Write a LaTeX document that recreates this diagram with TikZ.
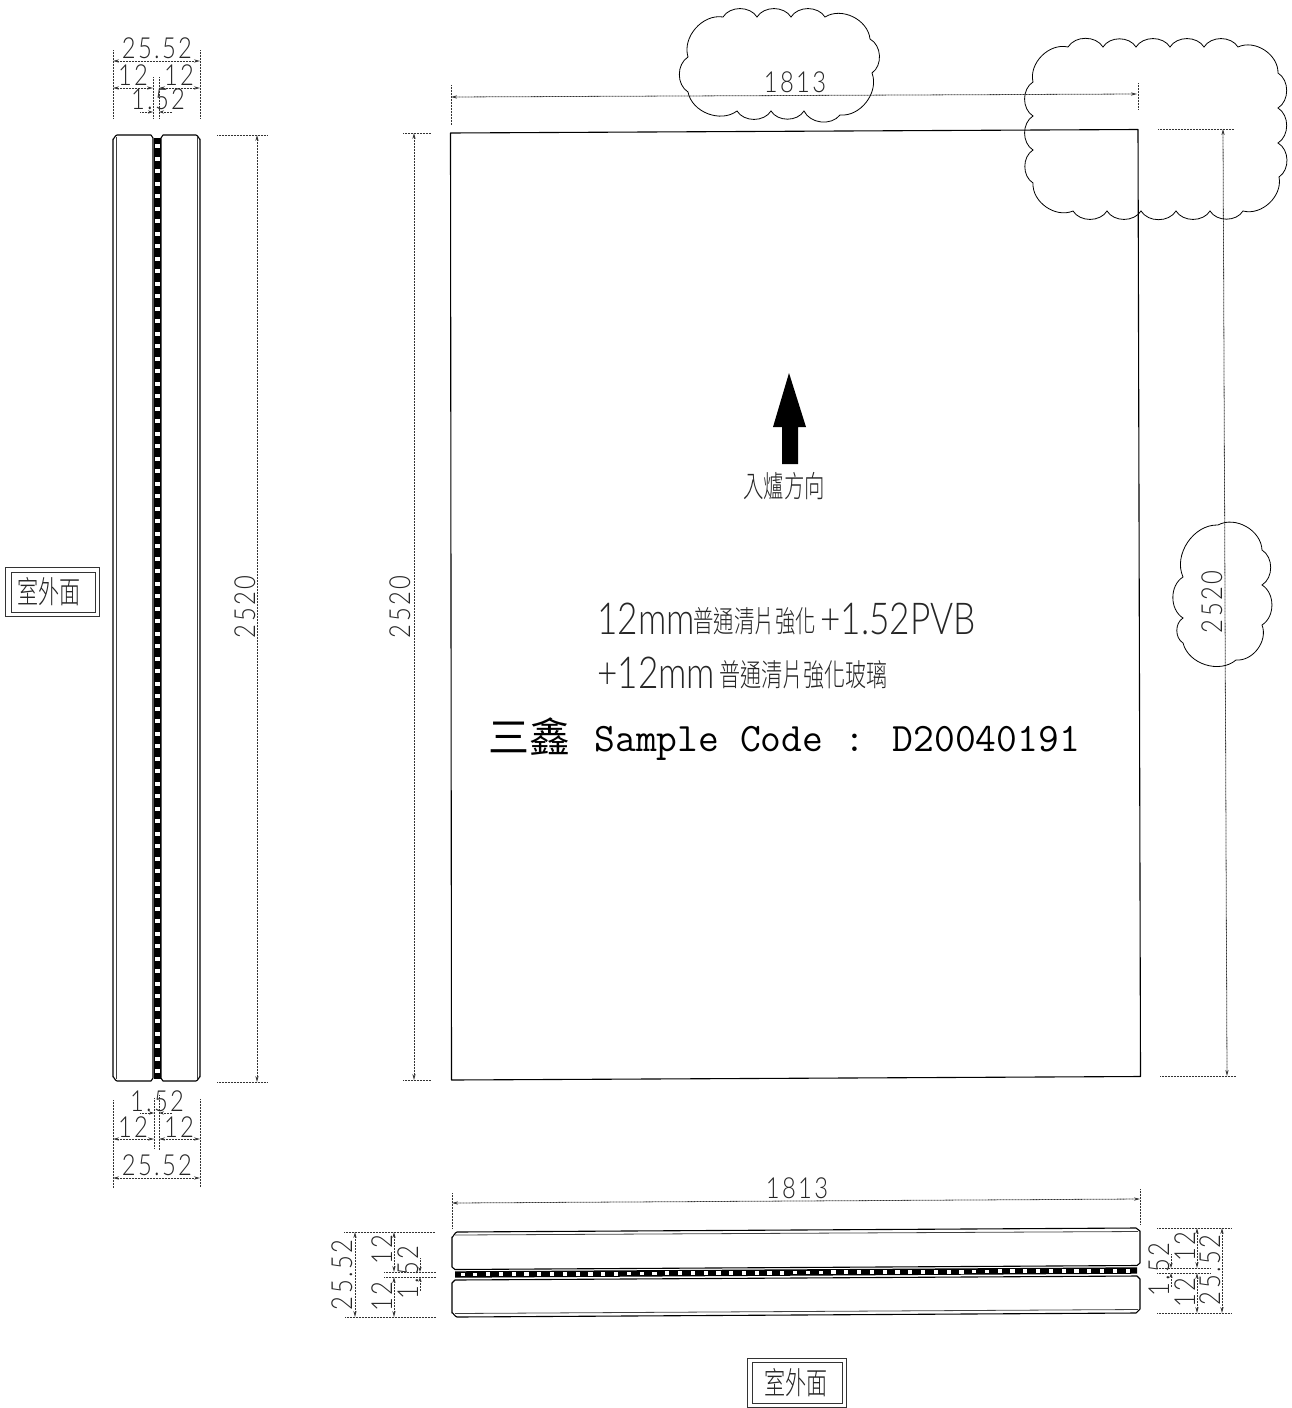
\documentclass[tikz,border=0pt]{standalone}
\usepackage{fontspec}
\usetikzlibrary{arrows.meta}
\newfontfamily\cad[FakeStretch=0.82,LetterSpace=8]{Lato Light}
\newfontfamily\cadb[FakeStretch=0.8]{Lato Light}
\newfontfamily\cjk[FakeStretch=0.68]{Noto Sans CJK TC Light}
\newfontfamily\cjkb{Noto Sans CJK TC}
\tikzset{
  outline/.style={draw=black,line width=.55pt,line join=round},
  innerln/.style={draw=black!75,line width=.4pt},
  witness/.style={draw=black!80,line width=.4pt,dash pattern=on .5pt off .25pt},
  dimln/.style={draw=black!80,line width=.4pt,dash pattern=on .5pt off .25pt,{Stealth[length=3pt,width=1.6pt]}-{Stealth[length=3pt,width=1.6pt]}},
  halfdim/.style={draw=black!80,line width=.4pt,dash pattern=on .5pt off .25pt,-{Stealth[length=2.5pt,width=1.6pt]}},
  cloudln/.style={draw=black,line width=.4pt,every to/.style={bend left=58}},
  num/.style={font=\cad\fontsize{14.5}{14.5}\selectfont,anchor=base,inner sep=0pt,text=black!85,text depth=0pt,text height=10pt},
  numv/.style={num,rotate=90},
  txtl/.style={anchor=base west,inner sep=0pt,text=black!85},
  tagtext/.style={font=\cjk\fontsize{15.5}{15.5}\selectfont,inner sep=0pt,text=black!85},
  tagbox/.style={draw=black!80,line width=.45pt},
}
\newcommand\wit[3]{\coordinate (#1a) at (#2);\coordinate (#1b) at (#3);\draw[witness] (#1a) -- (#1b);}
\newcommand\dimn[3]{\coordinate (#1a) at (#2);\coordinate (#1b) at (#3);\draw[dimln] (#1a) -- (#1b);}
\newcommand\hdim[3]{\coordinate (#1a) at (#2);\coordinate (#1b) at (#3);\draw[halfdim] (#1a) -- (#1b);}
\begin{document}
\begin{tikzpicture}[x=.5pt,y=-.5pt]
\useasboundingbox (0,0) rectangle (1291,1408);

% ---------- left section view ----------
\draw[outline] (153,1078) -- (153,138) -- (151,135) -- (117,135) to[out=180,in=-90,looseness=.9] (113,139) -- (113,1077) to[out=90,in=180,looseness=.9] (117,1081) -- (151,1081) -- (153,1078);
\draw[outline] (161,1078) -- (161,138) -- (163,135) -- (196,135) to[out=0,in=-90,looseness=.9] (200,139) -- (200,1077) to[out=90,in=0,looseness=.9] (196,1081) -- (163,1081) -- (161,1078);
\draw[innerln] (116,137) -- (116,1079) (197,137) -- (197,1079);
\fill[black] (154,138) -- (161,138) -- (161,1079) -- (154,1079) -- cycle;
\foreach \i in {0,...,74} \fill[white] ({155.4},{144+12.5*\i}) rectangle ++(4.2,4.2);

% left view: top dimensions
\wit{la}{113,50}{113,118}\wit{lb}{200,50}{200,118}
\wit{lc}{153,77}{153,118}\wit{ld}{159,77}{159,118}
\dimn{le}{113,61}{200,61}
\coordinate (lf) at (113,88);\coordinate (lg) at (153,88);\coordinate (lh) at (159,88);\coordinate (li) at (200,88);
\draw[dimln] (lf) -- (lg); \draw[dimln] (lh) -- (li);
\hdim{lj}{140,112}{153,112}\hdim{lk}{172,112}{159,112}
\node[num] (t1) at (157,58) {25.52};
\node[num] (t2) at (133,85) {12};
\node[num] (t3) at (179,85) {12};
\node[num] (t4) at (158,109) {1.52};

% left view: bottom dimensions
\wit{ma}{113,1100}{113,1188}\wit{mb}{200,1099}{200,1187}
\wit{mc}{154,1098}{154,1148}\wit{md}{159,1095}{159,1150}
\hdim{me}{140,1113}{154,1113}\hdim{mf}{172,1113}{159,1113}
\coordinate (mg) at (113,1139);\coordinate (mh) at (154,1139);\coordinate (mi) at (159,1139);\coordinate (mj) at (200,1139);
\draw[dimln] (mg) -- (mh); \draw[dimln] (mi) -- (mj);
\dimn{mk}{113,1178}{200,1178}
\node[num] (t5) at (157,1111) {1.52};
\node[num] (t6) at (133,1137) {12};
\node[num] (t7) at (179,1137) {12};
\node[num] (t8) at (157,1175) {25.52};

% left view: height
\wit{na}{217,135}{267,135}\wit{nb}{217,1082}{267,1082}
\dimn{nc}{257,135}{257,1082}
\node[numv] (t9) at (255,607) {2520};

% left tag
\node[tagbox,minimum width=47pt,minimum height=24.5pt,inner sep=0pt] (tagL) at (52,591.5) {};
\node[tagbox,minimum width=42pt,minimum height=20pt,inner sep=0pt] (tagLi) at (53,592) {};
\node[tagtext] (tagLt) at (49,592) {室外面};

% ---------- main panel ----------
\coordinate (pa) at (450.5,133);\coordinate (pb) at (1138,129.5);\coordinate (pc) at (1140.5,1076.5);\coordinate (pd) at (451.5,1080);
\draw[outline] (pa) -- (pb) -- (pc) -- (pd) -- cycle;

% top 1813
\wit{oa}{451,85}{451,125}\wit{ob}{1138,83}{1138,110}
\dimn{oc}{451,97}{1137,94}
\node[num] (t10) at (795,92.5) {1813};

% left 2520
\wit{pe}{403,133}{431,133}\wit{pf}{403,1080}{431,1080}
\dimn{pg}{414,133}{414,1080}
\node[numv] (t11) at (410,607) {2520};

% right 2520
\wit{qa}{1158,129}{1234,129}\wit{qb}{1160,1076}{1236,1076}
\dimn{qc}{1223,129}{1227,1076}
\node[numv] (t12) at (1222,602) {2520};

% clouds
\draw[cloudln] (688,57) to (723,17) to (757,17) to (791,17) to (825,17) to (870,39) to (872,73) to (840,115) to (804,111) to (771,111) to (737,111) to (688,92) to (688,57);
\draw[cloudln] (1068,47) to (1103,47) to (1136,47) to (1170,47) to (1204,47) to (1238,47) to (1278,73) to (1278,108) to (1278,143) to (1279,177) to (1243,211) to (1210,211) to (1176,211) to (1141,211) to (1107,211) to (1073,211) to (1033,183) to (1033,150) to (1033,116) to (1033,82) to (1068,47);
\draw[cloudln] (1218,525) to (1262,550) to (1262,585) to (1262,625) to (1236,660) to (1183,643) to (1183,618) to (1183,577) to (1218,525);

% arrow
\fill[black] (789,373) -- (806,427) -- (798,427) -- (798,464) -- (782,464) -- (782,427) -- (773,427) -- cycle;
\node[inner sep=0pt,font=\cjk\fontsize{15}{15}\selectfont,text=black!85] (dirt) at (784,486) {入爐方向};

% panel text
\node[txtl,font=\cadb\fontsize{22}{22}\selectfont] (l1a) at (597,634) {12mm};
\node[txtl,font=\cjk\fontsize{15}{15}\selectfont] (l1b) at (693,632) {普通清片強化};
\node[txtl,font=\cadb\fontsize{22}{22}\selectfont] (l1c) at (820,634) {+1.52PVB};
\node[txtl,font=\cadb\fontsize{22}{22}\selectfont] (l2a) at (597,688) {+12mm};
\node[txtl,font=\cjk\fontsize{15.5}{15.5}\selectfont] (l2b) at (719,686) {普通清片強化玻璃};
\node[txtl,font=\cjkb\fontsize{20.5}{20.5}\selectfont,text=black] (l3a) at (488,752) {三鑫};
\node[txtl,font=\ttfamily\fontsize{20.2}{20.2}\selectfont,text=black] (l3b) at (594,751) {Sample Code : D20040191};

% ---------- bottom section view ----------
\draw[outline] (452,1267) -- (452,1237) to[out=-90,in=180,looseness=.8] (457,1232) -- (1136,1228) -- (1140,1231) -- (1140,1263) -- (1137,1265.5) -- (455,1269.5) -- cycle;
\draw[outline] (452,1283) -- (455,1280) -- (1137,1276) -- (1140,1279) -- (1140,1309) -- (1136,1313) -- (457,1317) to[out=180,in=90,looseness=.8] (452,1313) -- cycle;
\draw[innerln] (455,1235) -- (1138,1231.5) (455,1313.5) -- (1138,1309.5);
\fill[black] (455,1271.3) -- (1137,1267.3) -- (1137,1273.7) -- (455,1277.7) -- cycle;
\foreach \i in {0,...,52} \fill[white] ({460.5+12.79*\i},{1272.6-0.00581*12.79*\i}) rectangle ++(4.2,3.8);

% bottom 1813
\wit{ra}{452,1193}{452,1228}\wit{rb}{1140,1189}{1140,1224}
\dimn{rc}{452,1203}{1140,1199}
\node[num] (t13) at (797,1198) {1813};

% bottom-left dims
\wit{sa}{344,1232}{435,1232}\wit{sb}{345,1317}{436,1317}
\wit{sc}{384,1272}{436,1272}\wit{sd}{384,1277}{436,1277}
\dimn{se}{355,1232}{355,1317}
\dimn{sf}{394,1232}{394,1272}\dimn{sg}{394,1277}{394,1317}
\hdim{sh}{420,1258}{420,1272}\hdim{si}{420,1291}{420,1277}
\node[numv] (t14) at (352,1275) {25.52};
\node[numv] (t15) at (392,1250) {12};
\node[numv] (t16) at (392,1297) {12};
\node[numv] (t17) at (418,1273) {1.52};

% bottom-right dims
\wit{ua}{1157,1228}{1232,1228}\wit{ub}{1157,1313}{1232,1313}
\wit{uc}{1157,1268}{1210,1268}\wit{ud}{1157,1273}{1210,1273}
\dimn{ue}{1222,1228}{1222,1313}
\dimn{uf}{1197,1228}{1197,1268}\dimn{ug}{1197,1273}{1197,1313}
\hdim{uh}{1171,1254}{1171,1268}\hdim{ui}{1171,1287}{1171,1273}
\node[numv] (t18) at (1169,1270) {1.52};
\node[numv] (t19) at (1195,1247) {12};
\node[numv] (t20) at (1195,1293) {12};
\node[numv] (t21) at (1220,1270) {25.52};

% bottom tag
\node[tagbox,minimum width=49.5pt,minimum height=24.5pt,inner sep=0pt] (tagB) at (796.5,1382.5) {};
\node[tagbox,minimum width=45pt,minimum height=20.5pt,inner sep=0pt] (tagBi) at (797,1382.5) {};
\node[tagtext] (tagBt) at (796,1383) {室外面};
\end{tikzpicture}
\end{document}
